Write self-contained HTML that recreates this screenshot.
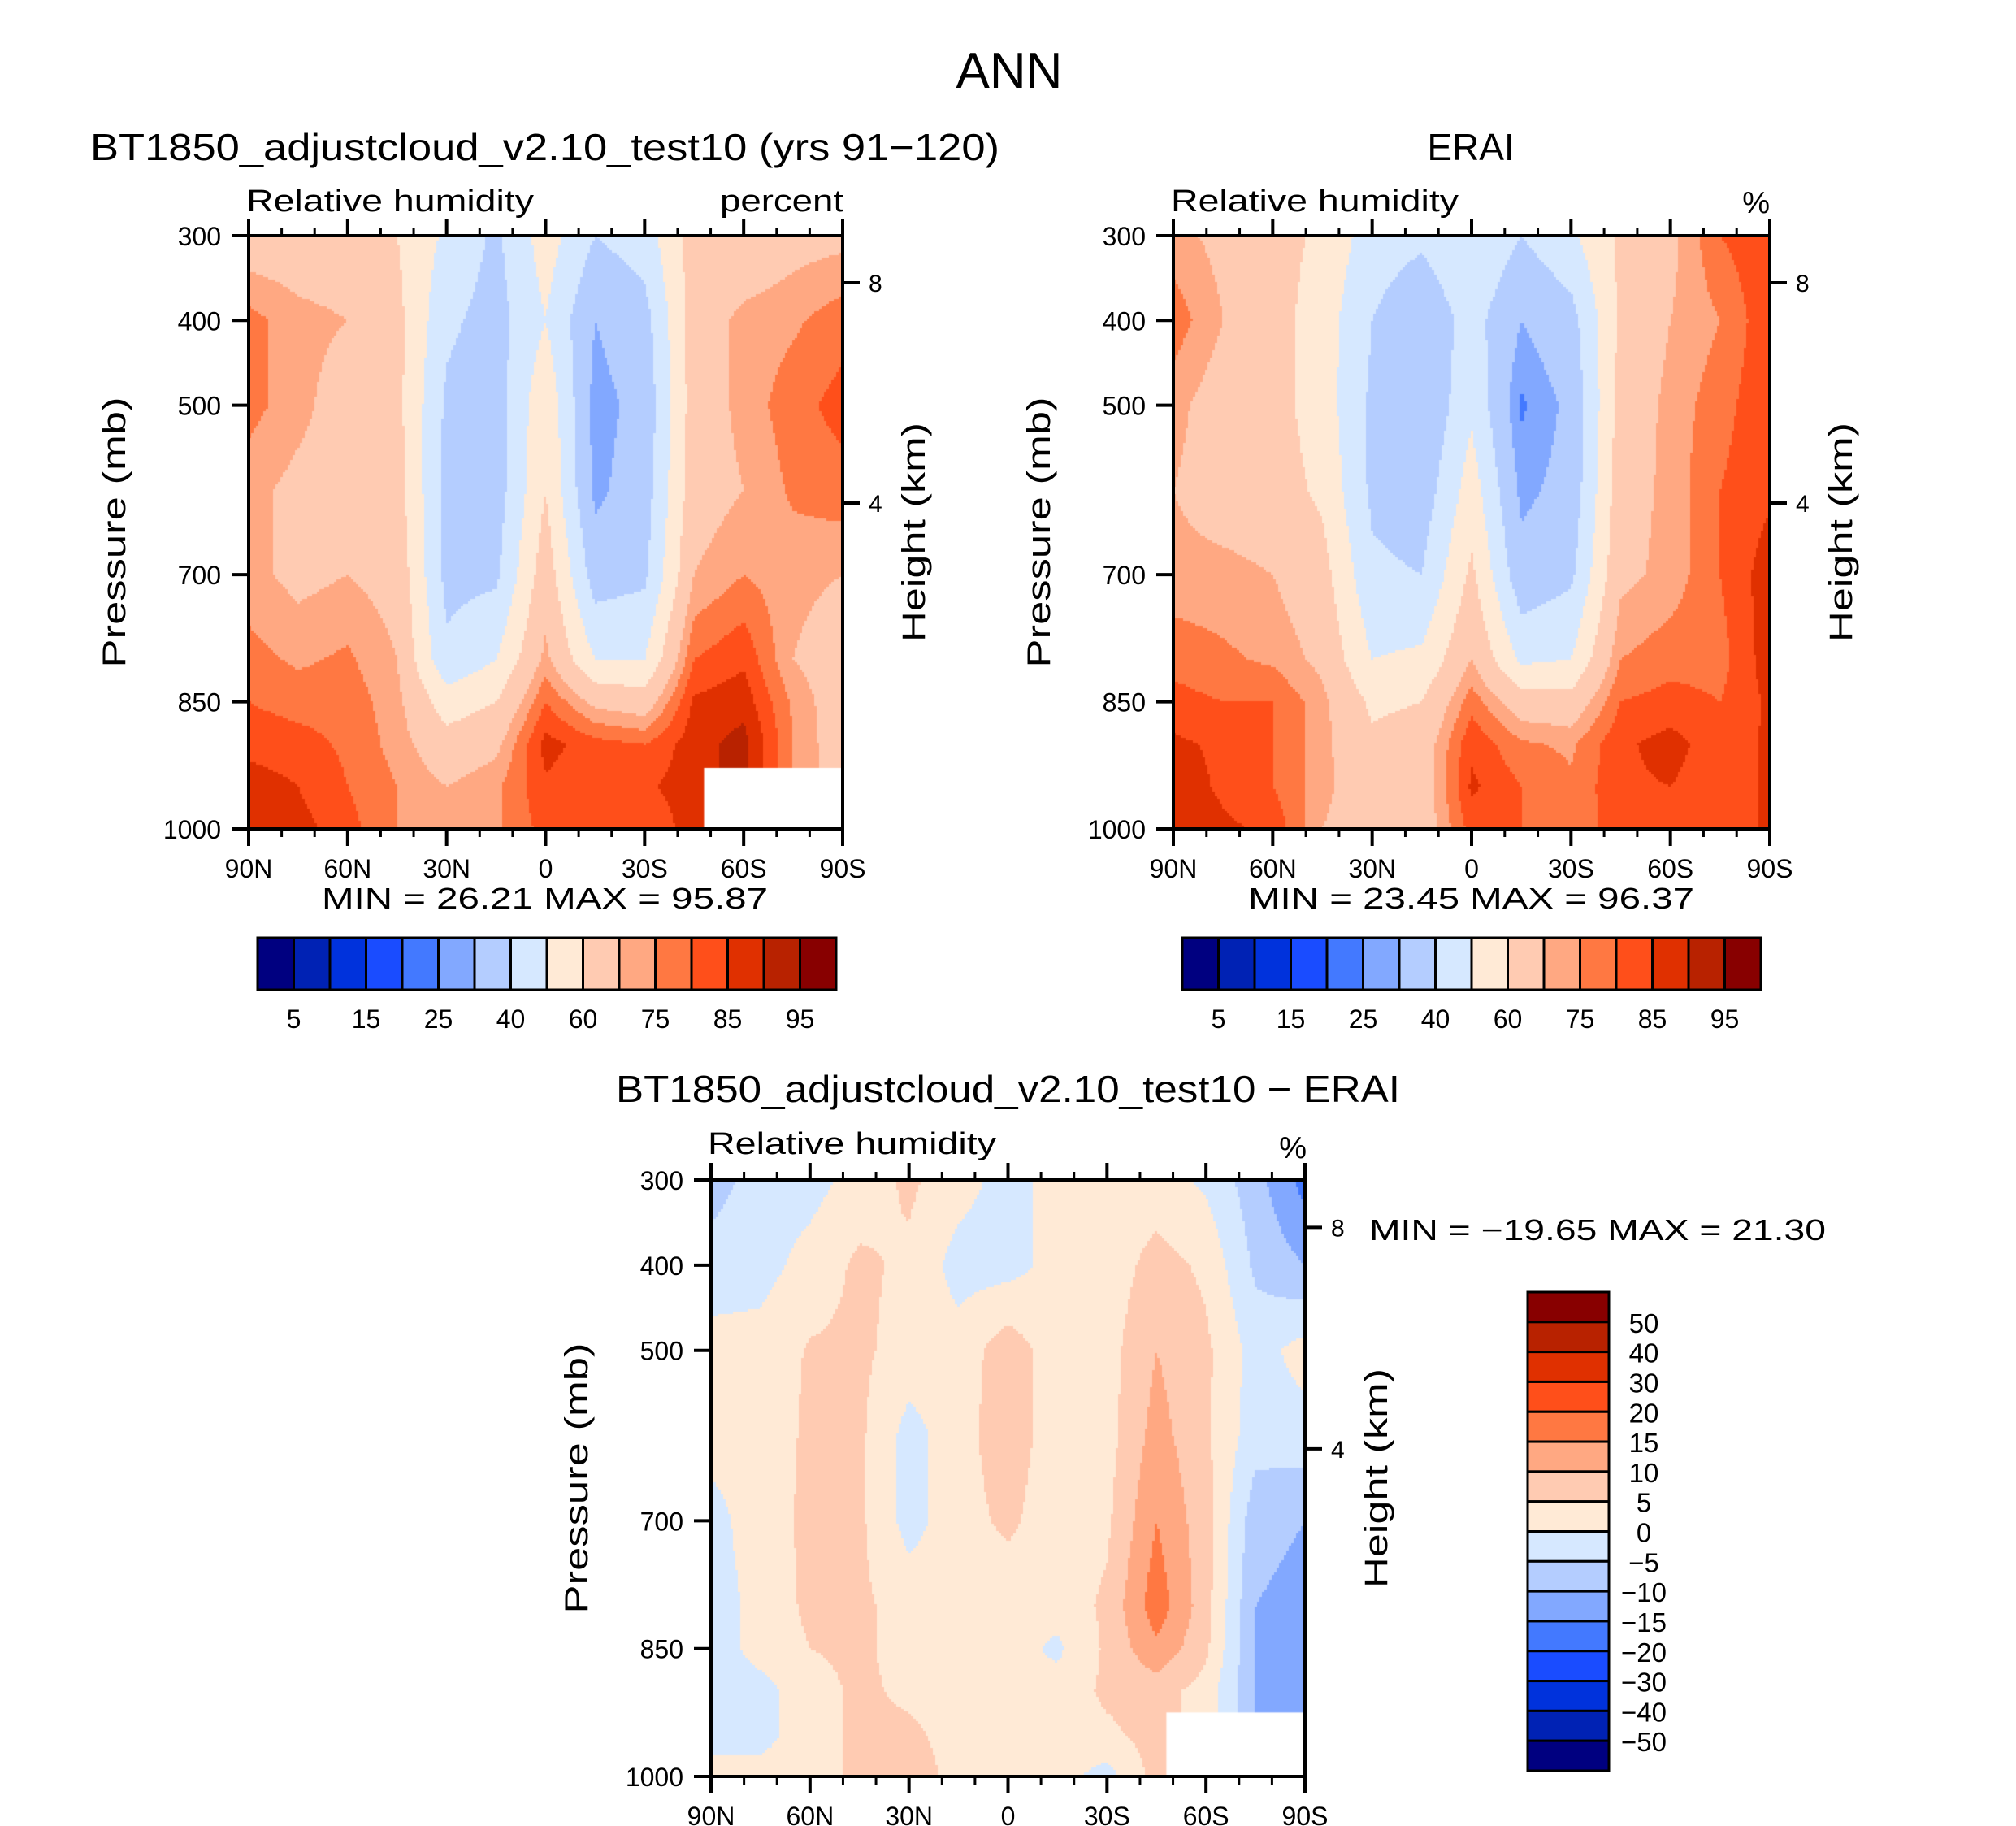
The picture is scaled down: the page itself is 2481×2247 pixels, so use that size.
<!DOCTYPE html>
<html><head><meta charset="utf-8">
<style>
body{margin:0;background:#fff;}
#wrap{position:relative;width:2481px;height:2247px;overflow:hidden;background:#fff;}
canvas{position:absolute;}
svg{position:absolute;left:0;top:0;}
text{font-family:"Liberation Sans","DejaVu Sans",sans-serif;fill:#000;}
</style></head>
<body>
<div id="wrap">
<canvas id="c1"></canvas>
<canvas id="c2"></canvas>
<canvas id="c3"></canvas>
<svg id="svg" width="2481" height="2247"></svg>
</div>
<script>
// ---- data ----
const lats = [90,75,60,45,30,15,0,-15,-30,-45,-60,-75,-90];
const pLevels = [300,400,500,600,700,800,850,900,950,1000];
const absLevels = [5,10,15,20,25,30,40,50,60,70,75,80,85,90,95];
const diffLevels = [-50,-40,-30,-20,-15,-10,-5,0,5,10,15,20,30,40,50];
const absTickLabels = ["5","15","25","40","60","75","85","95"];
const diffTickLabels = ["50","40","30","20","15","10","5","0","\u22125","\u221210","\u221215","\u221220","\u221230","\u221240","\u221250"];
const pTicks = [300,400,500,700,850,1000];
const latTicks = [90,60,30,0,-30,-60,-90];
const latTickLabels = ["90N","60N","30N","0","30S","60S","90S"];
// rows: latitude (90N..90S); columns: pressure levels
const modelRH = [
[65,77,77,72,72,77,80,83,88,90],
[65,72,72,68,68,74,78,82,85,87],
[65,70,66,66,70,76,78,79,80,82],
[60,63,63,64,67,70,72,73,75,75],
[48,42,38,37,37,42,55,64,70,72],
[38,36,35,35,38,50,60,68,74,74],
[55,50,58,60,66,72,80,87,84,82],
[40,30,27,28,35,50,68,82,82,80],
[45,36,33,35,38,50,65,80,84,80],
[65,65,65,66,70,80,86,88,88,88],
[63,72,72,70,75,84,88,92,92,92],
[67,74,78,76,72,70,74,75,75,75],
[68,78,82,78,70,65,65,65,65,65]];
const eraiRH = [
[72,78,72,70,72,78,82,86,88,90],
[68,70,66,66,72,76,80,84,84,86],
[64,64,64,65,70,74,80,80,80,84],
[58,55,55,58,64,68,72,72,72,70],
[45,40,38,38,42,50,58,62,64,64],
[42,32,30,34,40,52,60,65,65,65],
[50,44,48,55,62,70,78,84,86,82],
[40,30,24,28,33,48,65,76,80,80],
[48,36,32,33,38,50,64,74,76,75],
[62,62,64,66,68,75,80,84,84,84],
[68,70,72,72,72,78,82,87,85,82],
[80,75,78,80,80,78,80,82,82,82],
[84,84,84,84,88,88,86,86,86,86]];
const diffRH = [
[-7,-3,2,2,-2,-3,-3,-2,-2,2],
[-3,-2,2,2,3,2,2,-2,-2,2],
[-2,2,5.5,6,6,6,5,3,3,3],
[2,6,6,6,6,6,6,6,6,6],
[6,4,3,-2,-2,3,3,4,6,8],
[2,-2,2,3,3,3,3,3,3,3],
[-2,-2,8,8,6,2,2,2,2,2],
[2,2,2,2,2,2,-1,2,2,2],
[2,2,3,3,4,6,6,6,4,-2],
[2,7,10,12,15,18,14,7,7,7],
[-1,4,6,6,7,7,6,3,3,3],
[-8,-6,-2,-3,-8,-10,-10,-10,-10,-10],
[-17,-10,2,-2,-10,-12,-12,-12,-12,-12]];
const palette = ["#000080","#0022B4","#0032DC","#1A4CFF","#4379FF","#82A8FF","#B4CDFF","#D6E8FF","#FFEAD6","#FFCBB2","#FFA882","#FF7842","#FF4F1A","#E03000","#B82200","#880000"];

const NS="http://www.w3.org/2000/svg";
const svg=document.getElementById('svg');
function mk(tag,attrs,parent){const e=document.createElementNS(NS,tag);for(const k in attrs)e.setAttribute(k,attrs[k]);(parent||svg).appendChild(e);return e;}
function txt(s,x,y,size,anchor,name,extra){const t=mk('text',Object.assign({x:x,y:y,'font-size':size,'text-anchor':anchor||'start'},extra||{}));t.textContent=s;


return t;}

function interp(grid,lat,p){
  let fi=(90-lat)/15; let i=Math.min(Math.floor(fi),lats.length-2); let ti=fi-i;
  let j=0; while(j<pLevels.length-2 && p>pLevels[j+1]) j++;
  let tj=(p-pLevels[j])/(pLevels[j+1]-pLevels[j]);
  const a=grid[i][j],b=grid[i][j+1],c=grid[i+1][j],d=grid[i+1][j+1];
  return (a*(1-tj)+b*tj)*(1-ti)+(c*(1-tj)+d*tj)*ti;
}
function colorFor(v,levels){let k=0;while(k<levels.length && v>=levels[k])k++;return palette[k];}

function panel(o){
  const {cid,L,T,W,H,grid,levels,missing,prefix}=o;
  const xOf=lat=>L+(90-lat)/180*W;
  const yOf=p=>T+(p-300)/700*H;
  const cv=document.getElementById(cid);
  cv.width=W;cv.height=H;cv.style.left=L+'px';cv.style.top=T+'px';
  const ctx=cv.getContext('2d');
  const s=3;
  for(let px=0;px<W;px+=s){for(let py=0;py<H;py+=s){
    const lat=90-(px+s/2)/W*180, p=300+(py+s/2)/H*700;
    ctx.fillStyle=colorFor(interp(grid,lat,p),levels);ctx.fillRect(px,py,s,s);
  }}
  if(missing){ctx.fillStyle='#fff';const x0=xOf(missing[0])-L,y0=yOf(missing[1])-T;ctx.fillRect(x0,y0,W-x0,H-y0);}
  const g=mk('g',{});
  
  
  mk('rect',{x:L,y:T,width:W,height:H,fill:'none',stroke:'#000','stroke-width':4},g);
  pTicks.forEach(p=>{const y=yOf(p);mk('line',{x1:L-21,x2:L,y1:y,y2:y,stroke:'#000','stroke-width':4},g);
    txt(String(p),L-34,y+12,32,'end',prefix+'-y-tick-label');});
  for(let lat=90;lat>=-90;lat-=10){const x=xOf(lat);const major=lat%30===0;const len=major?21:10;
    mk('line',{x1:x,x2:x,y1:T-len,y2:T,stroke:'#000','stroke-width':major?4:3},g);
    mk('line',{x1:x,x2:x,y1:T+H,y2:T+H+len,stroke:'#000','stroke-width':major?4:3},g);}
  latTicks.forEach((lat,i)=>txt(latTickLabels[i],xOf(lat),T+H+60,32,'middle',prefix+'-x-tick-label'));
  [[8,T+H*0.0795],[4,T+H*0.4507]].forEach(h=>{mk('line',{x1:L+W,x2:L+W+21,y1:h[1],y2:h[1],stroke:'#000','stroke-width':4},g);
    txt(String(h[0]),L+W+32,h[1]+11,30,'start',prefix+'-height-tick-label');});
  const cy=T+H/2;
  txt('Pressure  (mb)',L-152,cy,40,'middle',prefix+'-y-axis-title',{transform:`rotate(-90 ${L-152} ${cy})`,textLength:333,lengthAdjust:'spacingAndGlyphs'});
  txt('Height  (km)',L+W+101,cy,40,'middle',prefix+'-right-axis-title',{transform:`rotate(-90 ${L+W+101} ${cy})`,textLength:270,lengthAdjust:'spacingAndGlyphs'});
}

panel({cid:'c1',L:306,T:290,W:731,H:730,grid:modelRH,levels:absLevels,missing:[-48,928],prefix:'model'});
panel({cid:'c2',L:1444,T:290,W:734,H:730,grid:eraiRH,levels:absLevels,missing:null,prefix:'erai'});
panel({cid:'c3',L:875,T:1452,W:731,H:734,grid:diffRH,levels:diffLevels,missing:[-48,925],prefix:'diff'});

function hbar(L,T,W,H,prefix){const bw=W/16;
  palette.forEach((c,i)=>{const r=mk('rect',{x:L+i*bw,y:T,width:bw,height:H,fill:c,stroke:'#000','stroke-width':3});
    
    });
  absTickLabels.forEach((s,i)=>txt(s,L+bw*(1+2*i),T+H+47,32,'middle',prefix+'-colorbar-label'));}
hbar(317,1154,712,64,'model');
hbar(1455,1154,712,64,'erai');
(function(){const L=1880,T=1590,W=100,H=589,bh=H/16;
  for(let i=0;i<16;i++){const r=mk('rect',{x:L,y:T+i*bh,width:W,height:bh,fill:palette[15-i],stroke:'#000','stroke-width':3});
    
    }
  diffTickLabels.forEach((s,i)=>txt(s,2023,T+bh*(i+1)+13,33,'middle','diff-colorbar-label'));})();

txt('ANN',1242,108,62,'middle','main-title');
txt('BT1850_adjustcloud_v2.10_test10 (yrs 91\u2212120)',111,197,46,'start','model-title',{textLength:1119,lengthAdjust:'spacingAndGlyphs'});
txt('ERAI',1810,197,46,'middle','erai-title');
txt('Relative  humidity',303,260,38,'start','model-variable-label',{textLength:354,lengthAdjust:'spacingAndGlyphs'});
txt('percent',1038,260,38,'end','model-units-label',{textLength:152,lengthAdjust:'spacingAndGlyphs'});
txt('Relative  humidity',1441,260,38,'start','erai-variable-label',{textLength:354,lengthAdjust:'spacingAndGlyphs'});
txt('%',2178,262,38,'end','erai-units-label');
txt('MIN =   26.21   MAX =   95.87',396,1118,36,'start','model-min-max',{textLength:549,lengthAdjust:'spacingAndGlyphs'});
txt('MIN =   23.45   MAX =   96.37',1536,1118,36,'start','erai-min-max',{textLength:549,lengthAdjust:'spacingAndGlyphs'});
txt('BT1850_adjustcloud_v2.10_test10 \u2212 ERAI',758,1356,46,'start','difference-title',{textLength:965,lengthAdjust:'spacingAndGlyphs'});
txt('Relative  humidity',871,1420,38,'start','diff-variable-label',{textLength:355,lengthAdjust:'spacingAndGlyphs'});
txt('%',1608,1425,38,'end','diff-units-label');
txt('MIN = \u221219.65   MAX =   21.30',1685,1526,36,'start','diff-min-max',{textLength:562,lengthAdjust:'spacingAndGlyphs'});
</script>
</body></html>
